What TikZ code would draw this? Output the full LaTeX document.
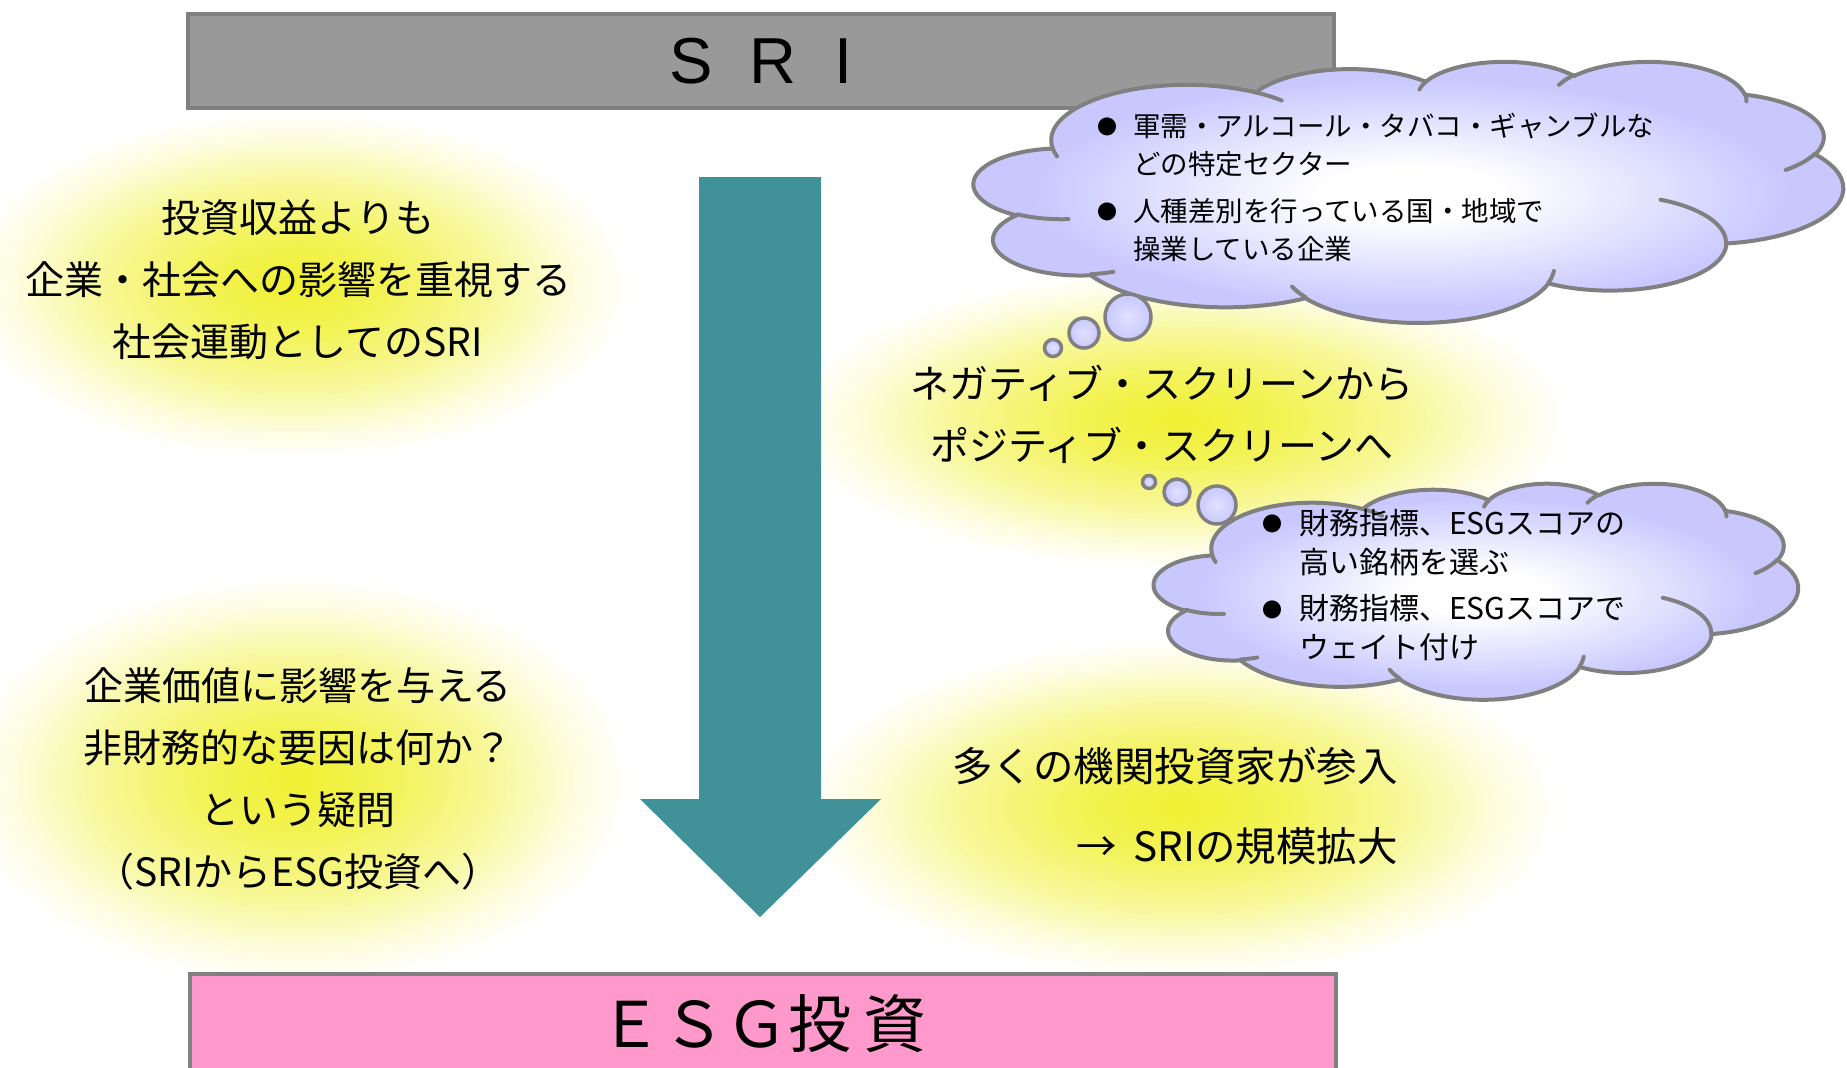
\documentclass[tikz,border=0pt]{standalone}
\usepackage{fontspec}
\setmainfont{Noto Sans CJK JP}
\newfontfamily\latinf{Liberation Sans}
\definecolor{barg}{RGB}{153,153,153}
\definecolor{edgeg}{RGB}{128,128,128}
\definecolor{pinkf}{RGB}{255,153,204}
\definecolor{arrowc}{RGB}{64,145,152}
\definecolor{glowc}{RGB}{240,240,50}
\definecolor{lav}{RGB}{200,200,255}
\pgfdeclareradialshading{glowsh}{\pgfpoint{0bp}{0bp}}{color(0bp)=(glowc); color(7bp)=(glowc!82!white); color(15bp)=(glowc!48!white); color(21bp)=(glowc!15!white); color(25bp)=(white); color(50bp)=(white)}
\pgfdeclareradialshading{cloudsh}{\pgfpoint{0bp}{0bp}}{color(0bp)=(white); color(5bp)=(white); color(21bp)=(lav); color(50bp)=(lav)}
\pgfdeclareradialshading{bubsh}{\pgfpoint{0bp}{0bp}}{color(0bp)=(lav!55!white); color(25bp)=(lav); color(50bp)=(lav)}
\newcommand\cldarc[4]{arc[x radius=#1, y radius=#2, start angle={vis(#3,#1,#2)}, delta angle={#4+nrm(vis(#3+#4,#1,#2)-(#3)-(#4))-nrm(vis(#3,#1,#2)-(#3))}]}
\newcommand\cloudoutline{(39,143.7)
 \cldarc{67.53}{91.90}{-190.4875}{123.7805}
 \cldarc{53.33}{72.67}{-144.1024}{89.9452}
 \cldarc{43.65}{59.45}{-145.8079}{99.7230}
 \cldarc{48.57}{65.95}{-130.9861}{117.2417}
 \cldarc{53.33}{72.73}{-78.7089}{109.0269}
 \cldarc{67.75}{92.20}{-46.2673}{130.2690}
 \cldarc{57.85}{78.67}{0.6250}{114.0333}
 \cldarc{67.52}{92.15}{22.4516}{115.1726}
 \cldarc{77.20}{105.43}{66.2426}{75.7110}
 \cldarc{43.60}{59.18}{-274.9421}{146.7356}
 \cldarc{43.45}{59.45}{-246.8285}{152.5189} -- cycle}
\newcommand\cloudinner{
 (46.93,261.77) \cldarc{43.45}{59.45}{86.7420}{26.4295}
 (69.28,348.99) \cldarc{43.60}{59.18}{73.6105}{11.4475}
 (164.78,390.90) \cldarc{67.52}{92.15}{137.6242}{14.0811}
 (288.27,347.51) \cldarc{67.52}{92.15}{6.4533}{15.9984}
 (341.29,229.54) \cldarc{57.85}{78.67}{-70.2924}{70.9174}
 (417.98,153.54) \cldarc{53.33}{72.73}{30.3180}{27.7515}
 (383.24,54.26) \cldarc{48.57}{65.95}{-13.7443}{14.8589}
 (290.78,39.52) \cldarc{48.57}{65.95}{-149.1815}{18.1954}
 (221.41,47.20) \cldarc{43.65}{59.45}{-163.4943}{17.6864}
 (140.00,51.92) \cldarc{67.53}{91.90}{-66.7070}{12.3194}
 (41.27,157.89) \cldarc{67.53}{91.90}{157.6544}{11.8539}}
\tikzset{
  barbox/.style={draw=edgeg, line width=4pt, inner sep=0pt},
  glowtxt/.style={align=center, inner sep=0pt, font=\fontsize{39}{62}\selectfont},
  glowbg/.style={shading=glowsh},
  cloudfill/.style={draw=edgeg, line width=4pt, line join=round, shading=cloudsh},
  cloudline/.style={draw=edgeg, line width=4pt, line cap=round},
  bubble/.style={circle, draw=edgeg, line width=3.5pt, shading=bubsh, inner sep=0pt},
  ctext/.style={align=left, anchor=west, inner sep=0pt},
  bul/.style={inner sep=0pt, font=\fontsize{20}{20}\selectfont}
}
\begin{document}
\begin{tikzpicture}[x=1pt, y=-1pt,
  declare function={vis(\a,\w,\h)=atan2(\w*sin(\a),\h*cos(\a)); nrm(\x)=\x-360*round(\x/360);}]
\useasboundingbox (0,0) rectangle (1847,1068);
\fill[white] (0,0) rectangle (1847,1068);
% glows (radial shading, white outside the inscribed ellipse)
\path[glowbg] (-40,110) rectangle (630,460);
\path[glowbg] (-40,575) rectangle (630,985);
\path[glowbg] (790,270) rectangle (1570,570);
\path[glowbg] (800,638) rectangle (1560,978);
% bars
\node[barbox, fill=barg, minimum width=1146pt, minimum height=94pt] (sri) at (761,61)
  {\latinf\fontsize{65}{65}\selectfont S\hspace{36pt}R\hspace{38pt}I};
\node[barbox, fill=pinkf, minimum width=1146pt, minimum height=100pt] (esg) at (763,1024)
  {\fontsize{63}{63}\selectfont ＥＳＧ投\hspace{12pt}資};
% arrow
\fill[arrowc] (699,177) -- (821,177) -- (821,799) -- (881,799) -- (760,917) -- (640,799) -- (699,799) -- cycle;
% glow texts
\node[glowtxt] (t1) at (298,280) {投資収益よりも\\企業・社会への影響を重視する\\社会運動としてのSRI};
\node[glowtxt] (t2) at (298,779) {企業価値に影響を与える\\非財務的な要因は何か？\\という疑問\\（SRIからESG投資へ）};
\node[glowtxt] (t3) at (1162,414) {ネガティブ・スクリーンから\\ポジティブ・スクリーンへ};
\node[glowtxt, align=right, anchor=east, font=\fontsize{40.5}{80}\selectfont] (t4) at (1398,806) {多くの機関投資家が参入\\→\hspace{0.4em}SRIの規模拡大};
% cloud 1
\begin{scope}[shift={(974,61)}, xscale=2.0116, yscale=0.60417]
  \path[cloudfill] \cloudoutline;
  \path[cloudline] \cloudinner;
\end{scope}
\node[bubble, minimum size=46pt] (c1a) at (1128,317) {};
\node[bubble, minimum size=30pt] (c1b) at (1084,333) {};
\node[bubble, minimum size=17pt] (c1c) at (1053,348) {};
\node[bul] (d1) at (1107,127) {●};
\node[ctext, font=\fontsize{27.5}{37.5}\selectfont] (i1) at (1133,145) {軍需・アルコール・タバコ・ギャンブルな\\どの特定セクター};
\node[bul] (d2) at (1107,212) {●};
\node[ctext, font=\fontsize{27.5}{37.5}\selectfont] (i2) at (1133,230) {人種差別を行っている国・地域で\\操業している企業};
% cloud 2
\begin{scope}[shift={(1154,483)}, xscale=1.4907, yscale=0.5]
  \path[cloudfill] \cloudoutline;
  \path[cloudline] \cloudinner;
\end{scope}
\node[bubble, minimum size=38pt] (c2a) at (1217,505) {};
\node[bubble, minimum size=26pt] (c2b) at (1177,492) {};
\node[bubble, minimum size=13pt] (c2c) at (1149,482) {};
\node[bul] (d3) at (1272,524) {●};
\node[ctext, font=\fontsize{30}{39}\selectfont] (i3) at (1299,543) {財務指標、ESGスコアの\\高い銘柄を選ぶ};
\node[bul] (d4) at (1272,610) {●};
\node[ctext, font=\fontsize{30}{39}\selectfont] (i4) at (1299,628) {財務指標、ESGスコアで\\ウェイト付け};
\end{tikzpicture}
\end{document}
